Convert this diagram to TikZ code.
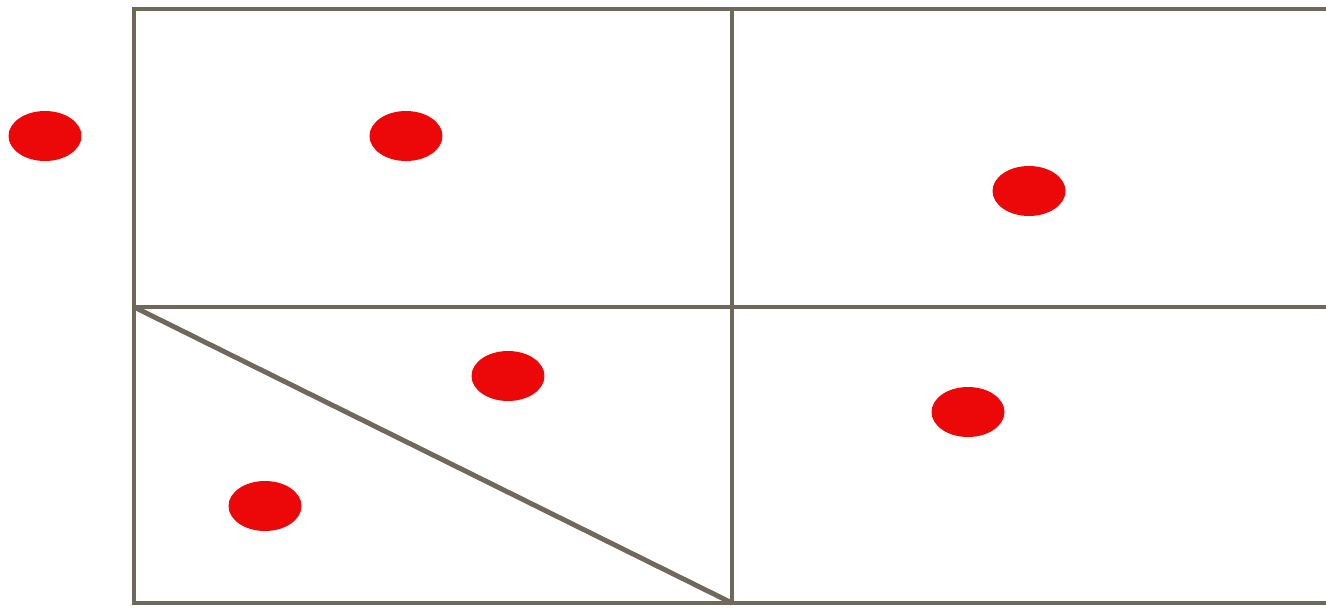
\documentclass[tikz,border=0pt]{standalone}
\usetikzlibrary{shapes.geometric}
\definecolor{gridline}{RGB}{112,104,90}
\definecolor{dotred}{RGB}{236,8,8}
\begin{document}
\begin{tikzpicture}[x=0.02cm,y=-0.02cm,
	wall/.style={color=gridline,line width=2.8pt},
	dot/.style={ellipse,fill=dotred,draw=none,minimum width=1.46cm,minimum height=1cm,inner sep=0pt}]
	\useasboundingbox (0,0) rectangle (1326,609);

	\coordinate (TL) at (134,9);
	\coordinate (TM) at (732,9);
	\coordinate (TR) at (1326,9);
	\coordinate (ML) at (134,307);
	\coordinate (MM) at (732,307);
	\coordinate (MR) at (1326,307);
	\coordinate (BL) at (134,603);
	\coordinate (BM) at (732,603);
	\coordinate (BR) at (1326,603);

	\draw[wall] (TR)--(TL)--(BL)--(BR);
	\draw[wall] (ML)--(MR);
	\draw[wall] (TM)--(BM);
	\draw[wall] (ML)--(BM);

	\node[dot] (out) at (45,136) {};
	\node[dot] (a) at (406,136) {};
	\node[dot] (b) at (1029,191) {};
	\node[dot] (c) at (508,376) {};
	\node[dot] (d) at (968,412) {};
	\node[dot] (e) at (265,506) {};

\end{tikzpicture}
\end{document}
